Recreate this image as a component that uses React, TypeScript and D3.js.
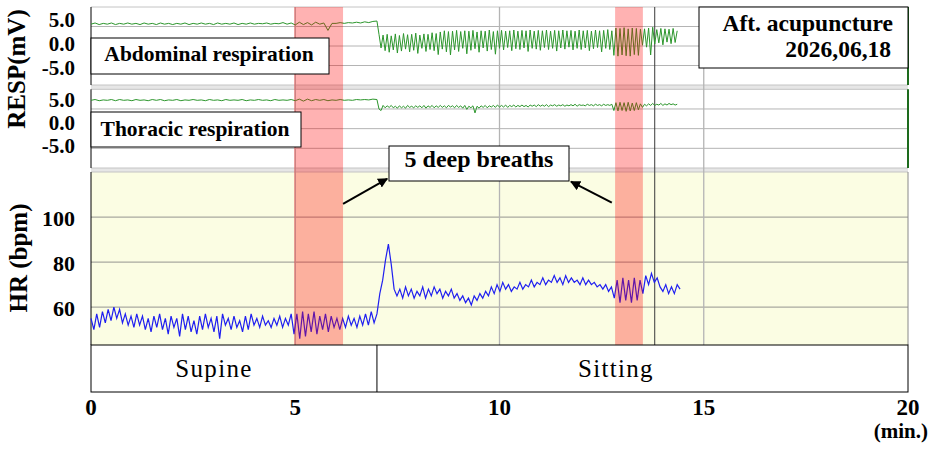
import * as React from 'react';
import * as d3 from 'd3';

// time axis (min.)
const xTicks = [0, 5, 10, 15, 20];

// heart rate, one sample every 0.07 min from 0
const HR_STEP = 0.07;
const hrValues = [
  55, 50, 57, 51, 58, 53, 59, 54, 60, 55,
  59, 53, 57, 52, 56, 51, 57, 52, 56, 50,
  55, 49, 56, 51, 57, 50, 55, 48, 56, 51,
  55, 47, 57, 50, 56, 49, 54, 48, 56, 50,
  57, 51, 55, 49, 56, 46, 57, 52, 55, 50,
  56, 51, 54, 49, 56, 50, 57, 52, 55, 51,
  56, 52, 54, 51, 55, 52, 56, 51, 55, 52, 57,
  48, 57, 46, 58, 47, 57, 49, 58, 48, 56, 50, 57, 49, 56, 51, 55, 50,
  55, 51, 56, 52, 55, 51, 56, 52, 57, 52, 58, 53,
  57, 66, 72, 81, 88, 79, 68, 65,
  68, 64, 69, 65, 68, 64, 67, 65, 69, 64, 68, 65, 69, 66, 68, 64, 67, 65, 68, 64,
  66, 63, 65, 62, 64, 61, 65, 63,
  66, 64, 67, 65, 69, 66, 70, 67, 71, 68, 70, 67, 69, 68,
  71, 68, 70, 69, 72, 69, 71, 70, 73, 70, 72, 71, 74, 71, 73, 70, 74, 71, 73, 71,
  72, 70, 73, 70, 72,
  70, 71, 69, 70, 68, 70, 67, 69,
  64, 72, 62, 73, 63, 72, 62, 73, 63, 72,
  66, 74, 70, 75, 71, 73, 69,
  67, 70, 66, 69, 66, 70, 68,
];

// respiration (mV): supine part every 0.1 min, sitting part every 0.05 min from 7.05
const PRE_STEP = 0.1;
const POST_START = 7.05;
const POST_STEP = 0.05;

const abdPre = [
  5.6, 5.9, 5.5, 5.8, 5.6, 5.9, 5.5, 5.8, 5.6, 5.9,
  5.6, 5.8, 5.5, 5.9, 5.6, 5.8, 5.5, 5.9, 5.6, 5.8,
  5.5, 5.8, 5.6, 5.9, 5.5, 5.8, 5.6, 5.9, 5.6, 5.8,
  5.5, 5.9, 5.6, 5.8, 5.6, 5.9, 5.5, 5.8, 5.6, 5.9,
  5.6, 5.8, 5.7, 5.9, 5.6, 5.8, 5.7, 6.0, 5.6, 5.9,
  5.4, 6.1, 5.5, 6.0, 5.4, 6.1, 5.6, 5.9, 4.0, 5.8,
  5.8, 6.0, 5.8, 6.0, 5.9, 6.1, 5.9, 6.2, 6.0, 6.3,
  6.4,
];
const abdPost = [
  3.0, -0.5, 2.8, -1.2, 3.0, -1.6, 2.6, -1.0, 3.1, -1.8,
  2.7, -1.3, 3.2, -0.8, 2.9, -1.5, 3.0, -1.1, 3.3, -1.9,
  2.8, -0.6, 3.1, -1.4, 3.0, -0.9, 3.4, -1.2, 3.2, -2.2,
  3.6, -0.8, 3.9, -1.5, 3.7, -2.3, 3.8, -1.0, 4.0, -1.4,
  3.7, -0.6, 3.9, -2.0, 3.8, -1.1, 4.0, -0.7, 3.6, -1.6,
  3.9, -0.5, 3.8, -1.3, 4.1, -0.9, 3.7, -2.1, 3.9, -0.6,
  4.0, -1.0, 3.8, -0.4, 3.9, -1.2, 4.1, -0.7, 3.8, -0.9,
  4.0, -0.5, 3.9, -1.4, 4.1, -0.6, 3.8, -0.8, 4.0, -1.1,
  3.9, -0.4, 4.1, -0.9, 3.8, -0.6, 4.0, -1.3, 3.9, -0.5,
  4.1, -0.8, 3.9, -0.3, 4.0, -1.0, 3.8, -0.6, 4.1, -0.9,
  3.9, -0.5, 4.0, -1.2, 3.8, -0.7, 4.1, -0.4, 3.9, -1.5,
  4.0, -0.6, 4.2, -0.9, 3.9,
  -2.4, 4.6, -2.6, 4.5, -2.3, 4.7, -2.5, 4.4, -2.6, 4.6, -2.2, 4.5, -2.4, 4.3,
  0.2, 4.4, -0.3, 4.6, -2.3, 4.8, 0.5, 4.2, 0.8, 4.5, 0.3,
  4.4, 1.0, 4.3, 0.6, 4.5, 0.9, 3.9,
];

const thorPre = [
  7.2, 7.4, 7.1, 7.3, 7.2, 7.4, 7.1, 7.4, 7.2, 7.3,
  7.1, 7.4, 7.2, 7.3, 7.1, 7.4, 7.2, 7.4, 7.1, 7.3,
  7.2, 7.4, 7.1, 7.3, 7.2, 7.4, 7.2, 7.3, 7.1, 7.4,
  7.2, 7.3, 7.1, 7.4, 7.2, 7.3, 7.2, 7.4, 7.1, 7.3,
  7.2, 7.4, 7.2, 7.3, 7.1, 7.4, 7.2, 7.3, 7.2, 7.4,
  7.1, 7.5, 7.0, 7.5, 7.1, 7.4, 7.2, 7.4, 7.1, 7.3,
  7.2, 7.4, 7.2, 7.3, 7.2, 7.4, 7.3, 7.4, 7.3, 7.5,
  7.4,
];
const thorPost = [
  5.0, 4.6, 5.9, 5.3, 5.8, 5.4, 5.9, 5.3, 5.7, 5.2,
  5.8, 5.3, 5.7, 5.2, 5.9, 5.4, 5.7, 5.3, 5.8, 5.4,
  5.8, 5.3, 5.9, 5.2, 5.8, 5.4, 5.9, 5.3, 5.8, 5.4,
  5.9, 5.4, 5.8, 5.3, 5.9, 5.5, 5.8, 5.3, 5.9, 5.4,
  5.8, 5.2, 5.9, 4.9, 5.7, 5.3, 5.8, 4.0, 5.7, 5.2,
  5.8, 5.4, 5.9, 5.3, 5.8, 5.5, 5.9, 5.4, 6.0, 5.5,
  5.9, 5.5, 6.0, 5.4, 5.9, 5.6, 6.0, 5.5, 5.9, 5.6,
  6.0, 5.6, 5.9, 5.5, 6.0, 5.7, 6.0, 5.6, 6.1, 5.7,
  6.0, 5.7, 6.1, 5.6, 6.0, 5.8, 6.1, 5.7, 6.0, 5.8,
  6.1, 5.7, 6.0, 5.8, 6.1, 5.8, 6.2, 5.7, 6.1, 5.9,
  6.0, 5.8, 6.2, 5.9, 6.1, 5.8, 6.2, 5.9, 6.1, 5.8,
  6.2, 5.9, 6.1, 5.9, 6.2,
  4.6, 6.6, 4.5, 6.7, 4.6, 6.6, 4.4, 6.7, 4.5, 6.5, 4.6, 6.6, 4.8, 6.3,
  5.4, 6.2, 5.8, 6.3, 5.9, 6.4, 5.9, 6.2, 6.0, 6.4, 5.9,
  6.3, 6.0, 6.4, 6.1, 6.3, 6.0, 6.2,
];

const respGrid = [-5, 0, 5];
const respTicks = [5, 0, -5];
const hrTicks = [60, 80, 100];

// 5 deep breaths periods (min.)
const deepBreaths: [number, number][] = [[4.97, 6.17], [12.83, 13.51]];
const postureLabels = ['Supine', 'Sitting'];
const postureStarts = [0, 7.0];
const markerTime = 13.8;

const FONT = 'Liberation Serif, DejaVu Serif, Times New Roman, serif';

const App: React.FC = () => {
  const x = d3.scaleLinear().domain([0, 20]).range([91, 908]);
  const yAbd = d3.scaleLinear().domain([-10, 10]).range([85, 7]);
  const yThor = d3.scaleLinear().domain([-10, 10]).range([168, 89.3]);
  const yHr = d3.scaleLinear().domain([43.2, 120]).range([345, 172]);
  // tick labels of the respiration panels sit a bit spread out from the grid
  const labAbd = d3.scaleLinear().domain([-5, 5]).range([67.5, 20]);
  const labThor = d3.scaleLinear().domain([-5, 5]).range([146, 99.5]);

  const respPoints = (pre: number[], post: number[]): [number, number][] => [
    ...pre.map((v, i) => [i * PRE_STEP, v] as [number, number]),
    ...post.map((v, i) => [POST_START + i * POST_STEP, v] as [number, number]),
  ];
  const hrPoints = hrValues.map((v, i) => [i * HR_STEP, v] as [number, number]);

  const lineAbd = d3.line<[number, number]>().x(d => x(d[0])).y(d => yAbd(d[1]));
  const lineThor = d3.line<[number, number]>().x(d => x(d[0])).y(d => yThor(d[1]));
  const lineHr = d3.line<[number, number]>().x(d => x(d[0])).y(d => yHr(d[1]));

  const left = x(0), right = x(20);
  const postureEnds = [...postureStarts.slice(1), 20];

  // annotation arrows in (min., bpm)
  const arrows = [
    { from: [6.17, 105.9], to: [7.25, 117] },
    { from: [12.75, 106.4], to: [11.75, 115.7] },
  ];

  const grid = '#b4b4b4';

  return (
    <svg width={930} height={449} style={{ position: 'absolute', left: 0, top: 0, background: '#fff', fontFamily: FONT }}>
      <defs>
        <marker id="ah" viewBox="0 0 10 10" refX="9" refY="5" markerWidth="5" markerHeight="5" orient="auto">
          <path d="M0,0 L10,5 L0,10 z" fill="#000" />
        </marker>
      </defs>

      {/* HR panel background */}
      <rect x={left} y={yHr.range()[1]} width={right - left} height={yHr.range()[0] - yHr.range()[1]} fill="#fbfde3" />

      {/* gaps between panels */}
      <rect x={left} y={85} width={right - left} height={4.3} fill="#e6e6e6" />
      <rect x={left} y={168} width={right - left} height={4} fill="#e6e6e6" />

      {/* horizontal grid */}
      {respGrid.map(v => (
        <g key={'rg' + v}>
          <line x1={left} x2={right} y1={yAbd(v)} y2={yAbd(v)} stroke={grid} />
          <line x1={left} x2={right} y1={yThor(v)} y2={yThor(v)} stroke={grid} />
        </g>
      ))}
      {hrTicks.map(v => (
        <line key={'hg' + v} x1={left} x2={right} y1={yHr(v)} y2={yHr(v)} stroke="#a9a9a0" strokeWidth={1.3} />
      ))}
      {[7, 85, 89.3, 168, 172].map(y => (
        <line key={'b' + y} x1={left} x2={right} y1={y} y2={y} stroke="#c4c4c4" />
      ))}

      {/* vertical grid */}
      {xTicks.slice(1, -1).map(t => (
        <line key={'vg' + t} x1={x(t)} x2={x(t)} y1={7} y2={345} stroke={grid} strokeWidth={1.3} />
      ))}
      <line x1={x(markerTime)} x2={x(markerTime)} y1={7} y2={345} stroke="#3a3a3a" strokeWidth={1} />

      {/* panel borders */}
      <line x1={left} x2={left} y1={7} y2={85} stroke="#000" />
      <line x1={left} x2={left} y1={89.3} y2={168} stroke="#000" />
      <line x1={left} x2={left} y1={172} y2={345} stroke="#000" />
      <line x1={right} x2={right} y1={7} y2={85} stroke="#1d6b1d" strokeWidth={2} />
      <line x1={right} x2={right} y1={89.3} y2={168} stroke="#1d6b1d" strokeWidth={2} />
      <line x1={right} x2={right} y1={172} y2={345} stroke="#888" />

      {/* signals */}
      <path d={lineAbd(respPoints(abdPre, abdPost)) ?? ''} fill="none" stroke="#2c962c" strokeWidth={1} />
      <path d={lineThor(respPoints(thorPre, thorPost)) ?? ''} fill="none" stroke="#2c962c" strokeWidth={1} />
      <path d={lineHr(hrPoints) ?? ''} fill="none" stroke="#1f1ff0" strokeWidth={1.2} />

      {/* deep breath bands */}
      {deepBreaths.map(([a, b]) => (
        <rect key={'db' + a} x={x(a)} y={7} width={x(b) - x(a)} height={338} fill="rgba(255,0,0,0.3)" />
      ))}

      {/* panel labels */}
      <rect x={left} y={38} width={238} height={36} fill="#fff" stroke="#000" />
      <text x={209} y={61} textAnchor="middle" fontSize={21.5} fontWeight="bold">Abdominal respiration</text>
      <rect x={left} y={112} width={210} height={35} fill="#fff" stroke="#000" />
      <text x={195} y={135.5} textAnchor="middle" fontSize={21.5} fontWeight="bold">Thoracic respiration</text>

      <rect x={699} y={7} width={209} height={61} fill="#fff" stroke="#000" />
      <text x={893} y={31} textAnchor="end" fontSize={23.5} fontWeight="bold">Aft. acupuncture</text>
      <text x={891} y={57} textAnchor="end" fontSize={23.5} fontWeight="bold">2026,06,18</text>

      {/* annotation */}
      <rect x={389} y={146} width={180} height={35} fill="#fff" stroke="#000" />
      <text x={479} y={167} textAnchor="middle" fontSize={24} fontWeight="bold">5 deep breaths</text>
      {arrows.map((a, i) => (
        <line key={'ar' + i} x1={x(a.from[0])} y1={yHr(a.from[1])} x2={x(a.to[0])} y2={yHr(a.to[1])}
          stroke="#000" strokeWidth={2} markerEnd="url(#ah)" />
      ))}

      {/* y tick labels */}
      {respTicks.map(v => (
        <g key={'rt' + v} fontSize={21} fontWeight="bold" textAnchor="end" dominantBaseline="central">
          <text x={75} y={labAbd(v)}>{v.toFixed(1)}</text>
          <text x={75} y={labThor(v)}>{v.toFixed(1)}</text>
        </g>
      ))}
      {hrTicks.map(v => (
        <text key={'ht' + v} x={75} y={yHr(v) + 1} fontSize={22} fontWeight="bold" textAnchor="end" dominantBaseline="central">{v}</text>
      ))}
      <text transform="translate(25,69) rotate(-90)" textAnchor="middle" fontSize={25} fontWeight="bold">RESP(mV)</text>
      <text transform="translate(27,258) rotate(-90)" textAnchor="middle" fontSize={25} fontWeight="bold">HR (bpm)</text>

      {/* posture band */}
      <rect x={left} y={345} width={right - left} height={47} fill="#fff" stroke="#000" />
      {postureLabels.map((p, i) => (
        <g key={p}>
          {i > 0 && <line x1={x(postureStarts[i])} x2={x(postureStarts[i])} y1={345} y2={392} stroke="#000" />}
          <text x={i === 0 ? x((postureStarts[i] + postureEnds[i]) / 2) - 20 : x(12.85)} y={377}
            textAnchor="middle" fontSize={25} letterSpacing={1.3}>{p}</text>
        </g>
      ))}

      {/* x axis labels */}
      {xTicks.map(t => (
        <text key={'xt' + t} x={x(t)} y={415} textAnchor="middle" fontSize={23} fontWeight="bold">{t}</text>
      ))}
      <text x={928} y={438} textAnchor="end" fontSize={21} fontWeight="bold">(min.)</text>
    </svg>
  );
};

export default App;
